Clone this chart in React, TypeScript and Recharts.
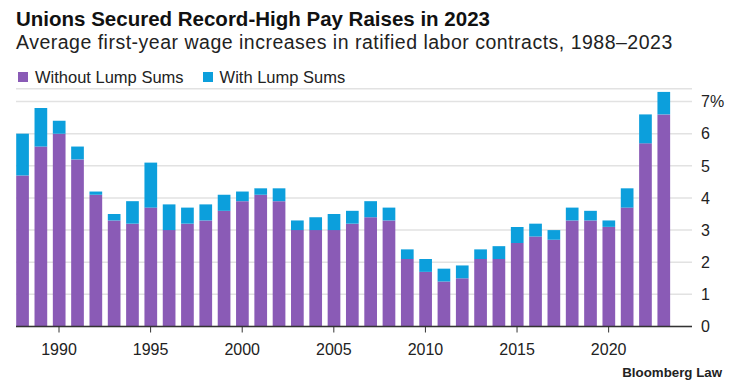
import { BarChart, Bar, XAxis, YAxis, CartesianGrid } from 'recharts';

const years = [
  1988, 1989, 1990, 1991, 1992, 1993, 1994, 1995, 1996, 1997, 1998, 1999,
  2000, 2001, 2002, 2003, 2004, 2005, 2006, 2007, 2008, 2009, 2010, 2011,
  2012, 2013, 2014, 2015, 2016, 2017, 2018, 2019, 2020, 2021, 2022, 2023,
];

// purple bars
const withoutLumpSums = [
  4.7, 5.6, 6.0, 5.2, 4.1, 3.3, 3.2, 3.7, 3.0, 3.2, 3.3, 3.6,
  3.9, 4.1, 3.9, 3.0, 3.0, 3.0, 3.2, 3.4, 3.3, 2.1, 1.7, 1.4,
  1.5, 2.1, 2.1, 2.6, 2.8, 2.7, 3.3, 3.3, 3.1, 3.7, 5.7, 6.6,
];

// total height incl. lump sums (blue part sits on top)
const withLumpSums = [
  6.0, 6.8, 6.4, 5.6, 4.2, 3.5, 3.9, 5.1, 3.8, 3.7, 3.8, 4.1,
  4.2, 4.3, 4.3, 3.3, 3.4, 3.5, 3.6, 3.9, 3.7, 2.4, 2.1, 1.8,
  1.9, 2.4, 2.5, 3.1, 3.2, 3.0, 3.7, 3.6, 3.3, 4.3, 6.6, 7.3,
];

const xTicks = [1990, 1995, 2000, 2005, 2010, 2015, 2020];
const yTicks = [0, 1, 2, 3, 4, 5, 6, 7];

const PURPLE = '#8a5bb6';
const BLUE = '#0c9fdc';
const FONT = '"Liberation Sans", Arial, sans-serif';

const data = years.map((year, i) => ({
  year,
  without: withoutLumpSums[i],
  lump: Math.round((withLumpSums[i] - withoutLumpSums[i]) * 10) / 10,
}));

function LegendItem({ color, label }: { color: string; label: string }) {
  return (
    <div style={{ display: 'flex', alignItems: 'center', marginRight: 19 }}>
      <div style={{ width: 10, height: 10, background: color, marginRight: 7 }} />
      <span>{label}</span>
    </div>
  );
}

export default function App() {
  return (
    <div style={{ position: 'relative', width: 740, height: 388, background: '#fff', fontFamily: FONT, color: '#111' }}>
      <style>{'body{margin:0}'}</style>
      <div style={{ position: 'absolute', left: 16, top: 8.6, fontSize: 20.5, lineHeight: 1, fontWeight: 700 }}>
        Unions Secured Record-High Pay Raises in 2023
      </div>
      <div style={{ position: 'absolute', left: 16, top: 33, fontSize: 19.5, lineHeight: 1, letterSpacing: 0.5, color: '#222' }}>
        Average first-year wage increases in ratified labor contracts, 1988–2023
      </div>
      <div style={{ position: 'absolute', left: 18, top: 69, display: 'flex', fontSize: 16.5, lineHeight: 1, color: '#222' }}>
        <LegendItem color={PURPLE} label="Without Lump Sums" />
        <LegendItem color={BLUE} label="With Lump Sums" />
      </div>

      <BarChart
        width={740}
        height={388}
        data={data}
        margin={{ top: 88.7, right: 0, left: 16, bottom: 31.5 }}
      >
        <CartesianGrid vertical={false} stroke="#e2e2e2" strokeWidth={1.5} />
        <XAxis
          dataKey="year"
          type="number"
          domain={[1987.653, 2024.55]}
          allowDataOverflow
          ticks={xTicks}
          height={30}
          axisLine={{ stroke: '#333', strokeWidth: 1.5 }}
          tickLine={{ stroke: '#333' }}
          tickSize={6}
          tickMargin={11}
          tick={{ fill: '#222', fontSize: 16, fontFamily: FONT }}
        />
        <YAxis
          orientation="right"
          width={48}
          domain={[0, 7.4]}
          ticks={yTicks}
          axisLine={false}
          tickLine={false}
          tickSize={0}
          tickMargin={9}
          tick={{ fill: '#222', fontSize: 16, fontFamily: FONT, textAnchor: 'start' }}
          tickFormatter={(v) => (v === 7 ? '7%' : String(v))}
        />
        <Bar dataKey="without" stackId="a" fill={PURPLE} barSize={12.7} isAnimationActive={false} />
        <Bar dataKey="lump" stackId="a" fill={BLUE} barSize={12.7} isAnimationActive={false} />
      </BarChart>

      <div style={{ position: 'absolute', right: 18, top: 365.7, fontSize: 13.3, lineHeight: 1, fontWeight: 700, color: '#222' }}>
        Bloomberg Law
      </div>
    </div>
  );
}
